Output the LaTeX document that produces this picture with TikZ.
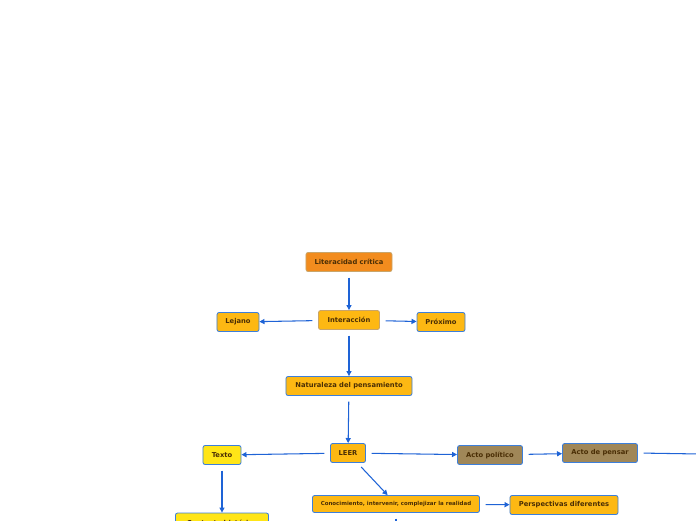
\documentclass[tikz,border=0pt]{standalone}
\usepackage{fontspec}
\newfontfamily\mapfont{DejaVu Sans}
\usetikzlibrary{arrows.meta,positioning}
\definecolor{linkblue}{HTML}{1E63D6}
\definecolor{boxblue}{HTML}{3C7FDB}
\definecolor{tanline}{HTML}{C9A56A}
\definecolor{amber}{HTML}{FDB813}
\definecolor{rootorange}{HTML}{F28C1E}
\definecolor{lemon}{HTML}{FFE517}
\definecolor{mocha}{HTML}{A08758}
\definecolor{inkbrown}{HTML}{4A2E05}

\begin{document}
\begin{tikzpicture}[x=0.025cm, y=-0.025cm, >={Triangle[length=3.6pt,width=3.6pt]},
  box/.style={draw=boxblue, fill=amber, rounded corners=1.5pt, line width=0.6pt,
    text=inkbrown, font=\mapfont\bfseries\fontsize{4.8}{5.5}\selectfont,
    minimum height=4.75mm, inner sep=1pt},
  link/.style={->, draw=linkblue, line width=0.75pt, shorten <=4pt}]
  \useasboundingbox (0,0) rectangle (696,520);
  \clip (0,0) rectangle (696,520);
  % top part
  \node[box, fill=rootorange, draw=tanline, minimum width=21.5mm] (lit) at (349,262) {Literacidad crítica};
  \node[box, draw=tanline, minimum width=15.25mm] (inter) at (349,320) {Interacción};
  \node[box, minimum width=10.5mm] (lej) at (238,322) {Lejano};
  \node[box, minimum width=12mm] (prox) at (441,322) {Próximo};
  \node[box, minimum width=31.5mm] (nat) at (349,386) {Naturaleza del pensamiento};
  % LEER and its branches
  \node[box, minimum width=8.75mm] (leer) at (348,453) {LEER};
  \node[box, fill=lemon, minimum width=9.5mm] (texto) at (222,455) {Texto};
  \node[box, fill=mocha, minimum width=16.25mm] (pol) at (490,455) {Acto político};
  \node[box, fill=mocha, minimum width=18.75mm] (pensar) at (600,453) {Acto de pensar};
  \node[box, minimum width=41.75mm, minimum height=4.25mm, font=\mapfont\bfseries\fontsize{3.9}{4.5}\selectfont] (cono) at (396,504) {Conocimiento, intervenir, complejizar la realidad};
  \node[box, minimum width=27mm] (persp) at (564,505) {Perspectivas diferentes};
  \node[box, fill=lemon, minimum width=23.25mm, minimum height=5mm] (ctx) at (222,523) {Contexto histórico};
  \coordinate (pensarend) at (700,454);
  \coordinate (conoend) at (396,530);
  % connectors
  \draw[link] (lit) -- (inter);
  \draw[link] (inter) -- (lej);
  \draw[link] (inter) -- (prox);
  \draw[link] (inter) -- (nat);
  \draw[link] (nat) -- (leer);
  \draw[link] (leer) -- (texto);
  \draw[link] (leer) -- (pol);
  \draw[link] (pol) -- (pensar);
  \draw[draw=linkblue, line width=0.75pt, shorten <=4pt] (pensar.east) -- (pensarend);
  \draw[link] (leer) -- (cono);
  \draw[link] (cono) -- (persp);
  \draw[link] (texto) -- (ctx);
  \draw[draw=linkblue, line width=0.75pt, shorten <=4pt] (cono) -- (conoend);
\end{tikzpicture}
\end{document}
